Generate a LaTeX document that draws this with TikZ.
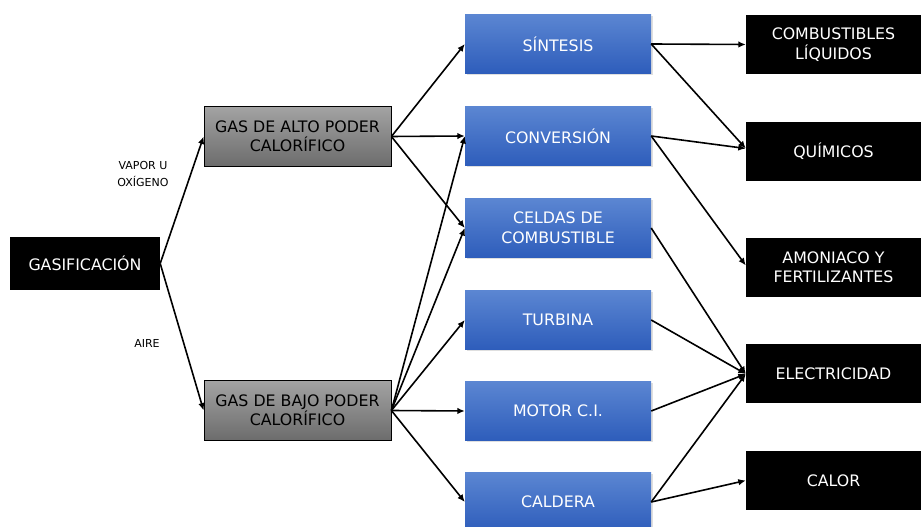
\documentclass[tikz,border=0pt]{standalone}
\usepackage{fontspec}
\setmainfont{DejaVu Sans}
\usepackage{tikz}
\usetikzlibrary{arrows.meta,shadows}
\definecolor{bluetop}{HTML}{5B86D2}
\definecolor{bluebot}{HTML}{2E5DBB}
\definecolor{graytop}{HTML}{A3A3A3}
\definecolor{graybot}{HTML}{6C6C6C}

\begin{document}
\begin{tikzpicture}[
  x=1pt, y=1pt,
  font=\fontsize{15.8}{19.5}\selectfont,
  src/.style={fill=black, text=white, minimum width=150, minimum height=53, align=center},
  gasbox/.style={draw=black, thick, top color=graytop, bottom color=graybot, text=black,
    minimum width=187, minimum height=60, align=center, inner sep=2pt},
  proc/.style={top color=bluetop, bottom color=bluebot, text=white, align=center,
    minimum width=186, minimum height=59, inner sep=2pt,
    drop shadow={shadow xshift=2pt, shadow yshift=-2pt, opacity=0.25}},
  prod/.style={fill=black, text=white, minimum width=175, minimum height=59, align=center},
  lab/.style={font=\fontsize{11}{17}\selectfont, align=center},
  arr/.style={-{Latex[length=7.5pt,width=6.5pt]}, line width=1.6pt},
]
\useasboundingbox (0,0) rectangle (921,527);

% ---------- origen ----------
\node[src] (gasif) at (85,263.5) {GASIFICACIÓN};
\node[gasbox] (alto) at (297.5,390.5) {GAS DE ALTO PODER\\CALORÍFICO};
\node[gasbox] (bajo) at (297.5,116.5) {GAS DE BAJO PODER\\CALORÍFICO};
\draw[arr] (gasif.east) -- (alto.west);
\draw[arr] (gasif.east) -- (bajo.west);
\node[lab] (vapor) at (143,353) {VAPOR U\\OXÍGENO};
\node[lab] (aire) at (147,184) {AIRE};

% ---------- procesos ----------
\node[proc] (sint) at (558,483) {SÍNTESIS};
\node[proc] (conv) at (558,391) {CONVERSIÓN};
\node[proc] (celd) at (558,299) {CELDAS DE\\COMBUSTIBLE};
\node[proc] (turb) at (558,207) {TURBINA};
\node[proc] (motor) at (558,116) {MOTOR C.I.};
\node[proc] (cald) at (558,25) {CALDERA};

\foreach \t in {sint,conv,celd}
  \draw[arr] (alto.east) -- (\t.west);
\foreach \t in {conv,celd,turb,motor,cald}
  \draw[arr] (bajo.east) -- (\t.west);

% ---------- productos ----------
\node[prod] (liq) at (833.5,482.5) {COMBUSTIBLES\\LÍQUIDOS};
\node[prod] (quim) at (833.5,375.5) {QUÍMICOS};
\node[prod] (amon) at (833.5,259.5) {AMONIACO Y\\FERTILIZANTES};
\node[prod] (elec) at (833.5,153) {ELECTRICIDAD};
\node[prod] (calor) at (833.5,46.5) {CALOR};

\draw[arr] (sint.east) -- (liq.west);
\draw[arr] (sint.east) -- ([yshift=3pt]quim.west);
\draw[arr] (conv.east) -- ([yshift=3pt]quim.west);
\draw[arr] (conv.east) -- ([yshift=2pt]amon.west);
\foreach \s in {celd,turb,motor,cald}
  \draw[arr] (\s.east) -- (elec.west);
\draw[arr] (cald.east) -- (calor.west);
\end{tikzpicture}
\end{document}
